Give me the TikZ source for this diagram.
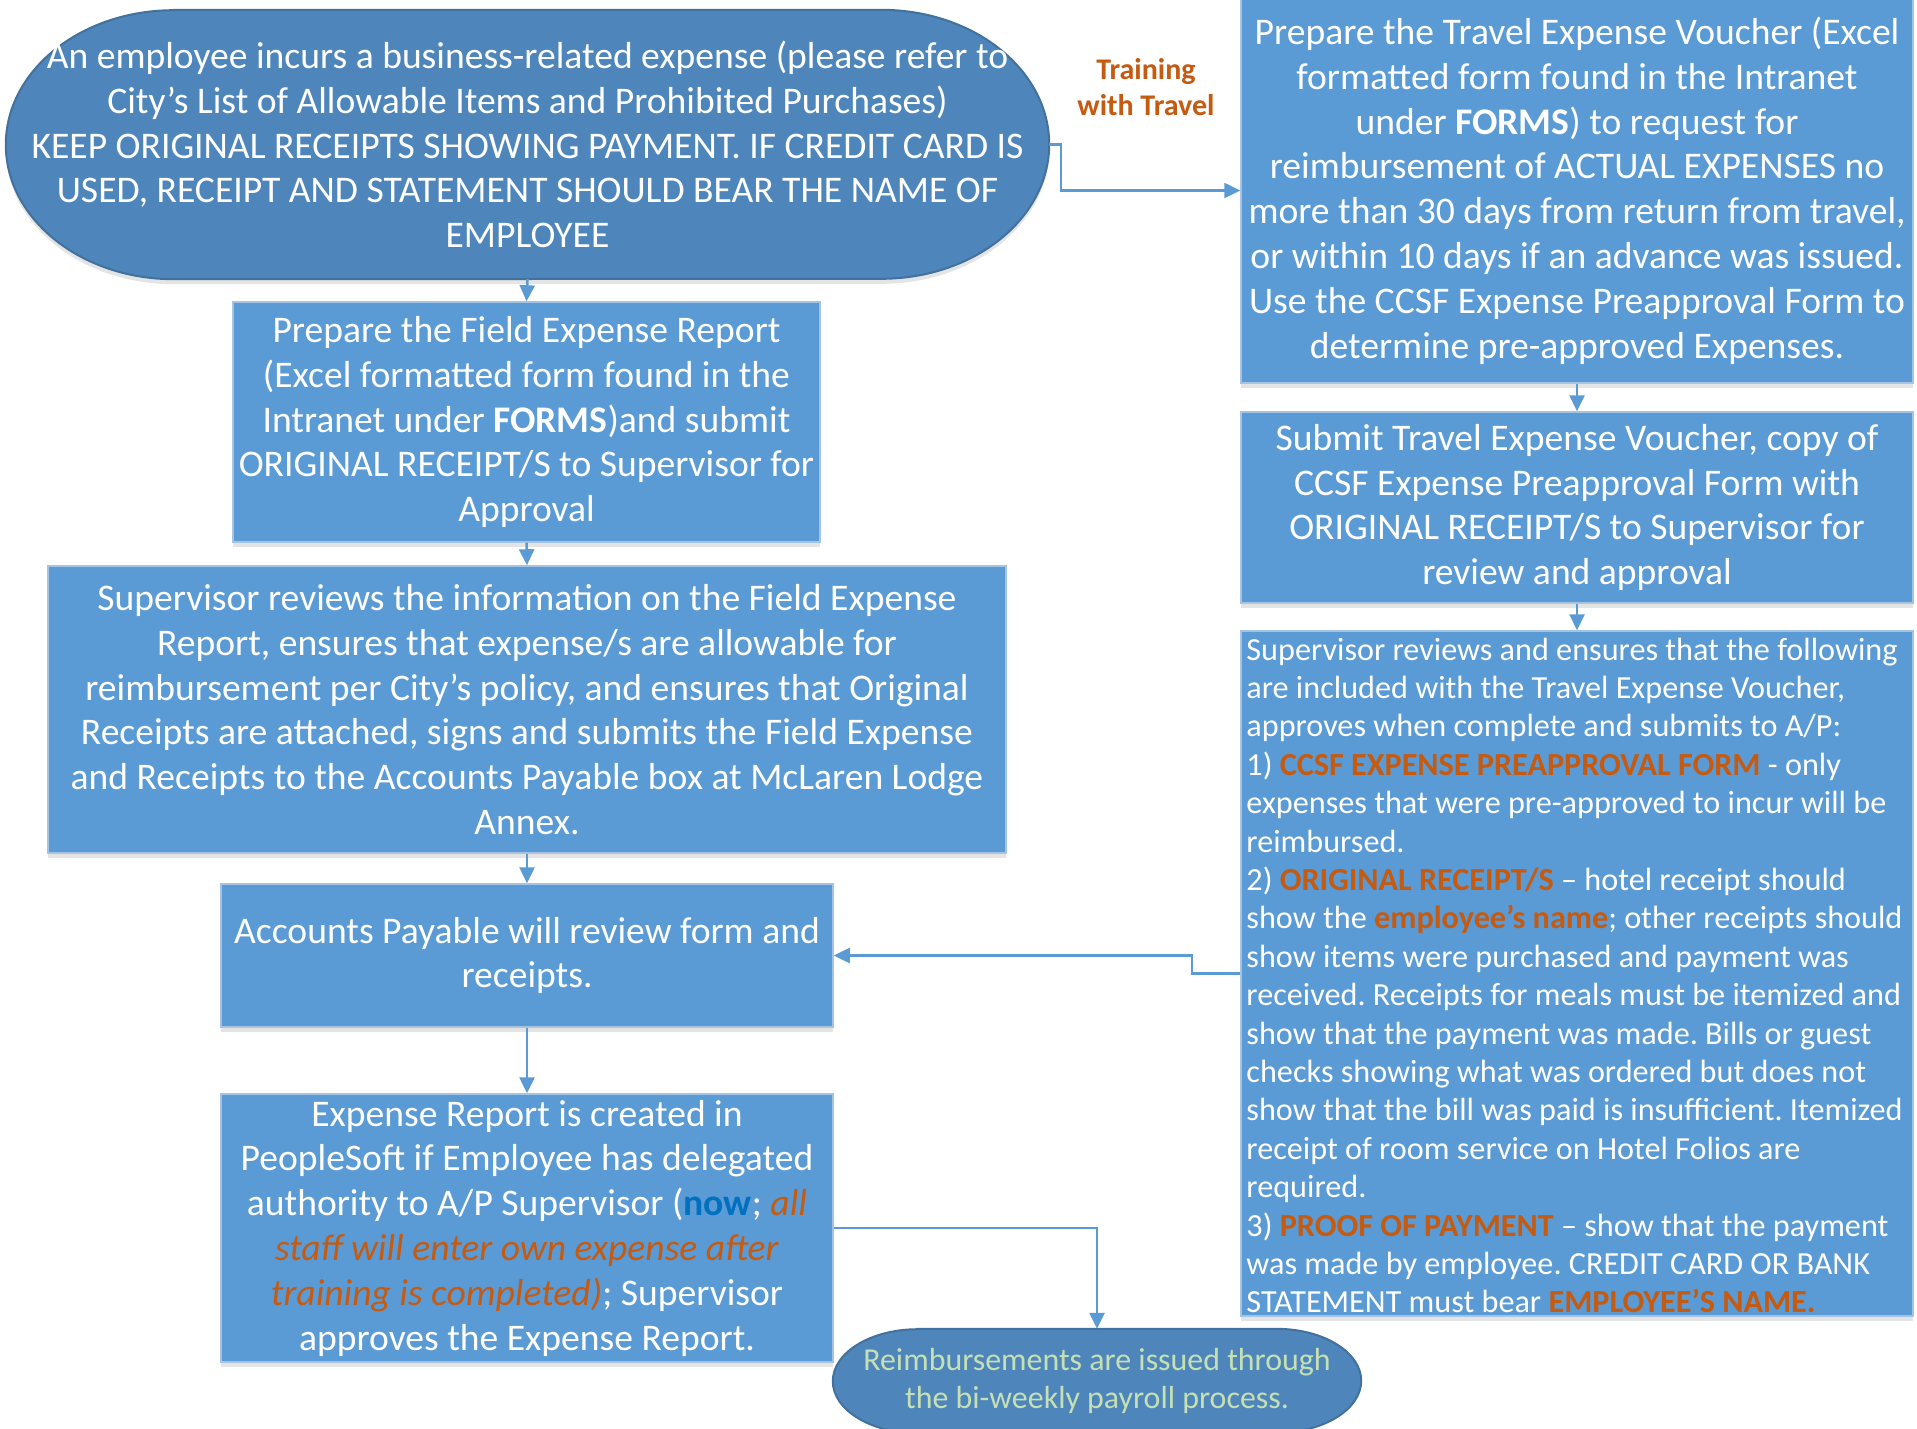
\documentclass[tikz,border=0pt]{standalone}
\usepackage{fontspec}
\setmainfont{Carlito}
\usetikzlibrary{arrows.meta,shadows}
\definecolor{boxfill}{HTML}{5B9BD5}
\definecolor{boxline}{HTML}{A5C3E3}
\definecolor{termfill}{HTML}{4E86BC}
\definecolor{termline}{HTML}{41719C}
\definecolor{orng}{HTML}{C55A11}
\definecolor{nowblue}{HTML}{0070C0}
\definecolor{lgreen}{HTML}{C5E0B4}
\definecolor{arrowc}{HTML}{5B9BD5}
\newcommand\orb[1]{\textcolor{orng}{\textbf{#1}}}
\newcommand\ori[1]{\textcolor{orng}{\textit{#1}}}
\frenchspacing
\begin{document}
\frenchspacing
\begin{tikzpicture}[x=1pt,y=1pt,
  flowbox/.style={fill=boxfill, draw=boxline, line width=1.5pt, text=white,
    align=center, inner sep=0pt, font=\fontsize{37.6}{44.8}\selectfont,
    drop shadow={shadow xshift=0pt, shadow yshift=-5pt, opacity=0.15, fill=black!70}},
  termtext/.style={inner sep=0pt, align=center},
  conn/.style={draw=arrowc, line width=2.5pt, -{Triangle[length=16pt,width=15pt]}}
]
\useasboundingbox (0,0) rectangle (1917,-1429);
\clip (0,0) rectangle (1917,-1429);
\fill[white] (0,0) rectangle (1917,-1429);

% start terminator
\node[termtext, minimum width=1043pt, minimum height=269pt] (start) at (527.5,-144.5) {};
\path[fill=termfill, draw=termline, line width=2pt,
  drop shadow={shadow xshift=0pt, shadow yshift=-5pt, opacity=0.15, fill=black!70}]
  ([xshift=168pt]start.north west) -- ([xshift=-168pt]start.north east)
  arc[start angle=90, end angle=-90, x radius=168pt, y radius=134.5pt]
  -- ([xshift=168pt]start.south west)
  arc[start angle=270, end angle=90, x radius=168pt, y radius=134.5pt] -- cycle;
\node[termtext, text=white, font=\fontsize{37.6}{44.8}\selectfont] at (start.center)
{An employee incurs a business-related expense (please refer to\\
City’s List of Allowable Items and Prohibited Purchases)\\
KEEP ORIGINAL RECEIPTS SHOWING PAYMENT. IF CREDIT CARD IS\\
USED, RECEIPT AND STATEMENT SHOULD BEAR THE NAME OF\\
EMPLOYEE};

% left column
\node[flowbox, minimum width=587pt, minimum height=240pt] (field) at (526.5,-422)
{Prepare the Field Expense Report\\
(Excel formatted form found in the\\
Intranet under \textbf{FORMS})and submit\\
ORIGINAL RECEIPT/S to Supervisor for\\
Approval};

\node[flowbox, minimum width=958pt, minimum height=287pt] (sup) at (527,-709.5)
{Supervisor reviews the information on the Field Expense\\
Report, ensures that expense/s are allowable for\\
reimbursement per City’s policy, and ensures that Original\\
Receipts are attached, signs and submits the Field Expense\\
and Receipts to the Accounts Payable box at McLaren Lodge\\
Annex.};

\node[flowbox, minimum width=612pt, minimum height=143pt] (ap) at (527,-955.5)
{Accounts Payable will review form and\\ receipts.};

\node[flowbox, minimum width=612pt, minimum height=268pt] (exp) at (527,-1228)
{Expense Report is created in\\
PeopleSoft if Employee has delegated\\
authority to A/P Supervisor (\textcolor{nowblue}{\textbf{now}}; \ori{all}\\
\ori{staff will enter own expense after}\\
\ori{training is completed)}; Supervisor\\
approves the Expense Report.};

% reimbursement terminator
\node[termtext, minimum width=528pt, minimum height=104pt] (reimb) at (1097,-1381) {};
\path[fill=termfill, draw=termline, line width=2pt]
  ([xshift=85pt]reimb.north west) -- ([xshift=-85pt]reimb.north east)
  arc[start angle=90, end angle=-90, x radius=85pt, y radius=52pt]
  -- ([xshift=85pt]reimb.south west)
  arc[start angle=270, end angle=90, x radius=85pt, y radius=52pt] -- cycle;
\node[termtext, text=lgreen, font=\fontsize{31.9}{37.9}\selectfont] at (reimb.center)
{Reimbursements are issued through\\ the bi-weekly payroll process.};

% right column
\node[flowbox, minimum width=672pt, minimum height=385pt] (travel) at (1577,-190.5)
{Prepare the Travel Expense Voucher (Excel\\
formatted form found in the Intranet\\
under \textbf{FORMS}) to request for\\
reimbursement of ACTUAL EXPENSES no\\
more than 30 days from return from travel,\\
or within 10 days if an advance was issued.\\
Use the CCSF Expense Preapproval Form to\\
determine pre-approved Expenses.};

\node[flowbox, minimum width=672pt, minimum height=191pt] (submit) at (1577,-507.5)
{Submit Travel Expense Voucher, copy of\\
CCSF Expense Preapproval Form with\\
ORIGINAL RECEIPT/S to Supervisor for\\
review and approval};

\node[flowbox, minimum width=672pt, minimum height=685pt] (supr) at (1577,-973.5) {};
\node[anchor=west, inner sep=0pt, align=left, text=white,
  font=\fontsize{32.2}{38.4}\selectfont] (suprtext) at ([xshift=6pt,yshift=-2pt]supr.west)
{Supervisor reviews and ensures that the following\\
are included with the Travel Expense Voucher,\\
approves when complete and submits to A/P:\\
1) \orb{CCSF EXPENSE PREAPPROVAL FORM} - only\\
expenses that were pre-approved to incur will be\\
reimbursed.\\
2) \orb{ORIGINAL RECEIPT/S} – hotel receipt should\\
show the \orb{employee’s name}; other receipts should\\
show items were purchased and payment was\\
received. Receipts for meals must be itemized and\\
show that the payment was made. Bills or guest\\
checks showing what was ordered but does not\\
show that the bill was paid is insufficient. Itemized\\
receipt of room service on Hotel Folios are\\
required.\\
3) \orb{PROOF OF PAYMENT} – show that the payment\\
was made by employee. CREDIT CARD OR BANK\\
STATEMENT must bear \orb{EMPLOYEE’S NAME.}};

% label
\node[inner sep=0pt, align=center, text=orng, font=\bfseries\fontsize{30}{35.5}\selectfont]
  (lbl) at (1146,-87) {Training\\with Travel};

% connectors
\coordinate (bendA) at (1061,-144.5);
\coordinate (bendB) at (1192,-973.5);
\draw[conn] (start.south) -- (field.north);
\draw[conn] (field.south) -- (sup.north);
\draw[conn] (sup.south) -- (ap.north);
\draw[conn] (ap.south) -- (exp.north);
\draw[conn] (start.east) -- (bendA) |- (travel.west);
\draw[conn] (travel.south) -- (submit.north);
\draw[conn] (submit.south) -- (supr.north);
\draw[conn] (supr.west) -- (bendB) |- (ap.east);
\draw[conn] (exp.east) -| (reimb.north);
\end{tikzpicture}
\end{document}
